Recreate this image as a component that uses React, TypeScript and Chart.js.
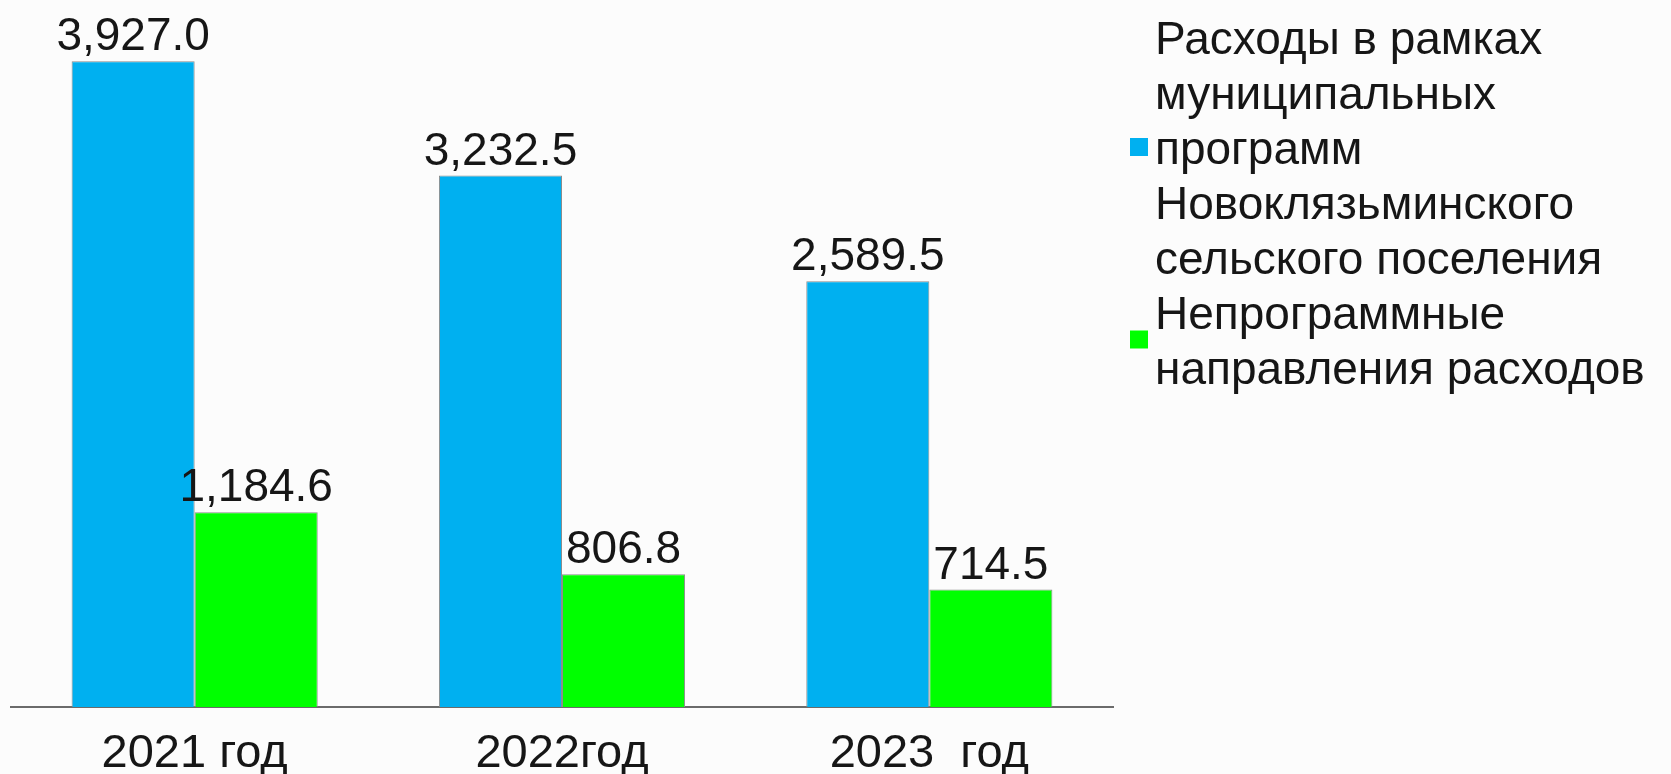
import { useEffect, useRef } from 'react';
import { Chart, registerables } from 'chart.js';

Chart.register(...registerables);

const FONT = '"Liberation Sans", Arial, sans-serif';

const categories = ['2021 год', '2022год', '2023  год'];
const programValues = [3927.0, 3232.5, 2589.5];
const nonProgramValues = [1184.6, 806.8, 714.5];

const seriesNames = [
  'Расходы в рамках муниципальных программ Новоклязьминского сельского поселения',
  'Непрограммные направления расходов',
];
const legendLinesProgram = [
  'Расходы в рамках',
  'муниципальных',
  'программ',
  'Новоклязьминского',
  'сельского поселения',
];
const legendLinesNonProgram = ['Непрограммные', 'направления расходов'];

const seriesColors = ['#00B0F0', '#00FF00'];

const fmt = (v: number) =>
  v.toLocaleString('en-US', { minimumFractionDigits: 1, maximumFractionDigits: 1 });

const backgroundPlugin = {
  id: 'bg',
  beforeDraw(chart: any) {
    const { ctx, width, height } = chart;
    ctx.save();
    ctx.fillStyle = '#fcfcfc';
    ctx.fillRect(0, 0, width, height);
    ctx.restore();
  },
};

const valueLabelPlugin = {
  id: 'valueLabels',
  afterDatasetsDraw(chart: any) {
    const { ctx } = chart;
    ctx.save();
    ctx.font = `46px ${FONT}`;
    ctx.fillStyle = '#161616';
    ctx.textAlign = 'center';
    ctx.textBaseline = 'alphabetic';
    chart.data.datasets.forEach((ds: any, i: number) => {
      const meta = chart.getDatasetMeta(i);
      meta.data.forEach((el: any, j: number) => {
        ctx.fillText(fmt(ds.data[j]), el.x, el.y - 11);
      });
    });
    ctx.restore();
  },
};

const customLegendPlugin = {
  id: 'customLegend',
  afterDraw(chart: any) {
    const { ctx } = chart;
    const entries = [legendLinesProgram, legendLinesNonProgram];
    const textX = 1155;
    const firstBaseline = 54;
    const lineStep = 55;
    const box = 18;
    ctx.save();
    ctx.font = `46px ${FONT}`;
    ctx.textAlign = 'left';
    ctx.textBaseline = 'alphabetic';
    let line = 0;
    entries.forEach((lines, i) => {
      const baselines: number[] = [];
      lines.forEach((t) => {
        const b = firstBaseline + lineStep * line;
        baselines.push(b);
        ctx.fillStyle = '#161616';
        ctx.fillText(t, textX, b);
        line++;
      });
      const mean = baselines.reduce((a, b) => a + b, 0) / baselines.length;
      const cy = mean - 17;
      ctx.fillStyle = seriesColors[i];
      ctx.fillRect(1130, cy - box / 2, box, box);
    });
    ctx.restore();
  },
};

export default function App() {
  const ref = useRef<HTMLCanvasElement | null>(null);
  useEffect(() => {
    if (!ref.current) return;
    const chart = new Chart(ref.current, {
      type: 'bar',
      data: {
        labels: categories,
        datasets: [
          {
            label: seriesNames[0],
            data: programValues,
            backgroundColor: seriesColors[0],
            borderColor: '#8c8c8c',
            borderWidth: 1,
            categoryPercentage: 0.67,
            barPercentage: 1.0,
          },
          {
            label: seriesNames[1],
            data: nonProgramValues,
            backgroundColor: seriesColors[1],
            borderColor: '#8c8c8c',
            borderWidth: 1,
            categoryPercentage: 0.67,
            barPercentage: 1.0,
          },
        ],
      },
      options: {
        responsive: false,
        animation: false,
        devicePixelRatio: 1,
        layout: { padding: { left: 11, right: 558, top: 0, bottom: 0 } },
        plugins: {
          legend: { display: false },
          tooltip: { enabled: false },
        },
        scales: {
          x: {
            grid: { display: false },
            border: { display: true, color: '#6b6b6b', width: 2 },
            ticks: {
              font: { family: FONT, size: 47 },
              color: '#161616',
              padding: 11,
              maxRotation: 0,
              autoSkip: false,
            },
            afterFit: (s: any) => {
              s.height = 67;
            },
          },
          y: { display: false, min: 0, max: 4300 },
        },
      },
      plugins: [backgroundPlugin, valueLabelPlugin, customLegendPlugin],
    });
    return () => chart.destroy();
  }, []);
  return (
    <div style={{ position: 'fixed', left: 0, top: 0, width: 1671, height: 774, background: '#fcfcfc' }}>
      <canvas ref={ref} width={1671} height={774} style={{ display: 'block' }} />
    </div>
  );
}
